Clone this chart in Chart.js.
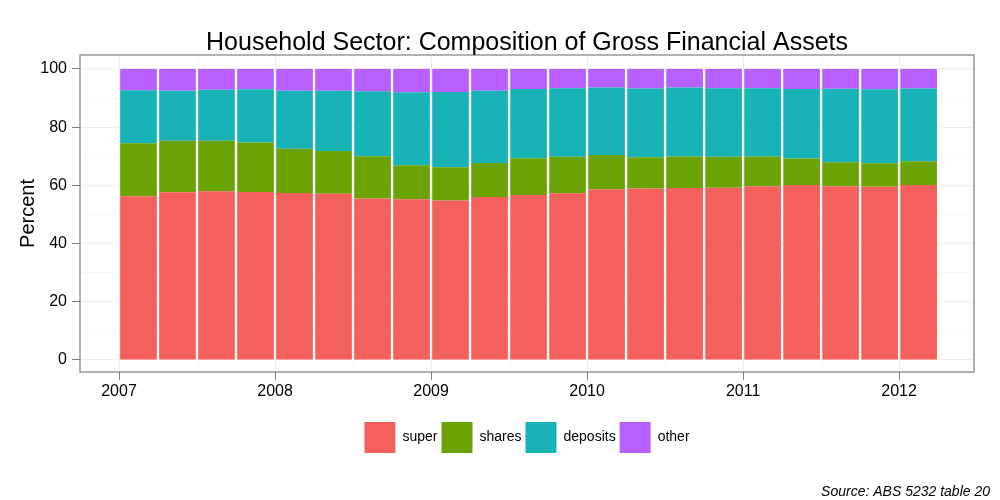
<!DOCTYPE html>
<html>
<head>
<meta charset="utf-8">
<script src="https://cdn.jsdelivr.net/npm/chart.js@4"></script>
<style>
  html, body { margin: 0; padding: 0; background: #fff; }
  #wrap { width: 1000px; height: 500px; }
</style>
</head>
<body>
<div id="wrap"><canvas id="assetChart" width="1000" height="500"></canvas></div>
<script>
// quarters 2007 Q1 .. 2012 Q1
const quarters = ["2007Q1","2007Q2","2007Q3","2007Q4","2008Q1","2008Q2","2008Q3","2008Q4",
  "2009Q1","2009Q2","2009Q3","2009Q4","2010Q1","2010Q2","2010Q3","2010Q4",
  "2011Q1","2011Q2","2011Q3","2011Q4","2012Q1"];

const superAnn = [56.3,57.6,58.0,57.7,57.4,57.1,55.5,55.2,54.8,56.0,56.7,57.3,58.7,58.9,59.1,59.2,59.7,60.1,59.7,59.5,60.1];
const shares   = [18.2,17.7,17.3,17.0,15.2,14.7,14.5,11.7,11.4,11.7,12.6,12.5,11.7,10.8,10.8,10.6,10.2,9.1,8.2,8.1,8.2];
const deposits = [18.2,17.2,17.6,18.3,19.9,20.7,22.3,25.1,25.9,24.8,23.8,23.6,23.2,23.6,23.7,23.6,23.5,23.9,25.3,25.4,25.0];
const other    = [7.3,7.5,7.1,7.0,7.5,7.5,7.7,8.0,7.9,7.5,6.9,6.6,6.4,6.7,6.4,6.6,6.6,6.9,6.8,7.0,6.7];

const yearTicks = [2007, 2008, 2009, 2010, 2011, 2012];
const percentTicks = [0, 20, 40, 60, 80, 100];

// quarter -> decimal year at the middle of the quarter
const qx = quarters.map(q => +q.slice(0, 4) + (+q.slice(5) - 1) / 4 + 0.125);
const pts = arr => arr.map((v, i) => ({ x: qx[i], y: v }));

const FONT = "'Liberation Sans', Arial, Helvetica, sans-serif";

const extras = {
  id: "extras",
  afterDraw(chart) {
    const { ctx, chartArea: a } = chart;
    ctx.save();
    ctx.strokeStyle = "#7f7f7f";
    ctx.lineWidth = 1.2;
    ctx.strokeRect(a.left, a.top, a.right - a.left, a.bottom - a.top);
    ctx.fillStyle = "#000";
    ctx.textAlign = "center";
    ctx.textBaseline = "alphabetic";
    ctx.font = "25px " + FONT;
    ctx.fillText("Household Sector: Composition of Gross Financial Assets", (a.left + a.right) / 2, 50);
    ctx.textAlign = "right";
    ctx.font = "italic 14px " + FONT;
    ctx.fillText("Source: ABS 5232 table 20", 990, 496);
    ctx.restore();
  }
};

const ctx = document.getElementById("assetChart").getContext("2d");
new Chart(ctx, {
  type: "bar",
  data: {
    datasets: [
      { label: "super", data: pts(superAnn), backgroundColor: "#F4605B" },
      { label: "shares", data: pts(shares), backgroundColor: "#6BA305" },
      { label: "deposits", data: pts(deposits), backgroundColor: "#18B3B7" },
      { label: "other", data: pts(other), backgroundColor: "#B760FF" }
    ]
  },
  options: {
    responsive: false,
    animation: false,
    barPercentage: 1,
    categoryPercentage: 0.94,
    layout: { padding: { top: 55, right: 26, left: 0, bottom: 37 } },
    plugins: {
      legend: {
        position: "bottom",
        fullSize: false,
        labels: {
          boxWidth: 31, boxHeight: 31, padding: 4,
          color: "#000",
          font: { family: FONT, size: 14 }
        }
      },
      tooltip: { enabled: false },
      title: { display: false }
    },
    scales: {
      x: {
        type: "linear",
        stacked: true,
        offset: false,
        min: 2006.75,
        max: 2012.48,
        afterBuildTicks: s => {
          s.ticks = [];
          yearTicks.forEach(y => { s.ticks.push({ value: y }); if (y < 2012) s.ticks.push({ value: y + 0.5 }); });
        },
        afterFit: s => { s.height = 46; },
        border: { display: false },
        grid: {
          offset: false,
          color: c => (c.tick && Number.isInteger(c.tick.value)) ? "#ebebeb" : "#f6f6f6",
          tickColor: c => (c.tick && Number.isInteger(c.tick.value)) ? "#7f7f7f" : "rgba(0,0,0,0)",
          tickLength: 8
        },
        ticks: {
          autoSkip: false,
          maxRotation: 0,
          padding: 2,
          color: "#000",
          font: { family: FONT, size: 16 },
          callback: v => Number.isInteger(v) ? String(v) : ""
        }
      },
      y: {
        stacked: true,
        min: -4.14,
        max: 104.8,
        afterBuildTicks: s => {
          s.ticks = [];
          for (let i = 0; i < percentTicks.length; i++) {
            s.ticks.push({ value: percentTicks[i] });
            if (i < percentTicks.length - 1) s.ticks.push({ value: percentTicks[i] + 10 });
          }
        },
        afterFit: s => { s.width = 80; },
        border: { display: false },
        title: {
          display: true,
          text: "Percent",
          color: "#000",
          font: { family: FONT, size: 20 },
          padding: { top: 16, bottom: 0 }
        },
        grid: {
          color: c => (c.tick && c.tick.value % 20 === 0) ? "#ebebeb" : "#f6f6f6",
          tickColor: c => (c.tick && c.tick.value % 20 === 0) ? "#7f7f7f" : "rgba(0,0,0,0)",
          tickLength: 8
        },
        ticks: {
          autoSkip: false,
          padding: 5,
          color: "#000",
          font: { family: FONT, size: 16 },
          callback: v => v % 20 === 0 ? String(v) : ""
        }
      }
    }
  },
  plugins: [extras]
});
</script>
</body>
</html>
